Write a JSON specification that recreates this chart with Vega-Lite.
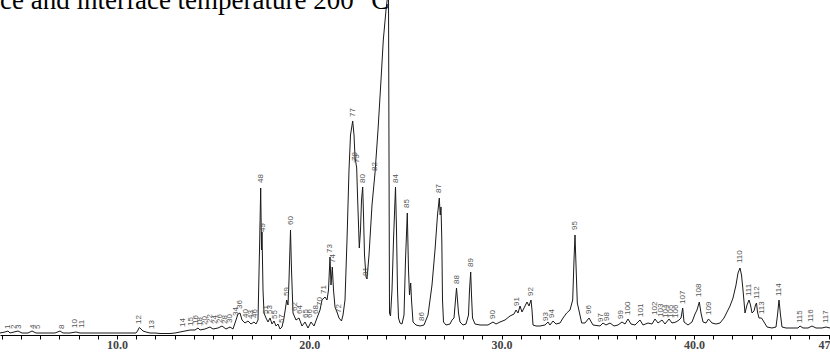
{
  "$schema": "https://vega.github.io/schema/vega-lite/v6.json",
  "width": 830,
  "height": 335,
  "padding": {"left": 0, "top": 0, "right": 0, "bottom": 19},
  "autosize": {"type": "none"},
  "background": "white",
  "config": {"view": {"stroke": null}, "axis": {"labelOverlap": false}},
  "title": {
    "text": "ce and interface temperature 200 °C",
    "anchor": "start",
    "frame": "group",
    "orient": "top",
    "offset": -36,
    "baseline": "alphabetic",
    "font": "Liberation Serif",
    "fontSize": 27,
    "fontWeight": "normal",
    "color": "#000000"
  },
  "datasets": {
    "tic": [
      {"rt":3.916,"i":2},{"rt":4.176,"i":3},{"rt":4.332,"i":4},{"rt":4.436,"i":2},{"rt":4.644,"i":3},{"rt":4.852,"i":4},{"rt":5.060,"i":2},{"rt":5.372,"i":2},{"rt":5.580,"i":4},{"rt":5.788,"i":2},{"rt":6.256,"i":2},{"rt":6.776,"i":2},{"rt":7.036,"i":4},{"rt":7.192,"i":2},{"rt":7.556,"i":2},{"rt":7.868,"i":3},{"rt":8.076,"i":2},{"rt":8.596,"i":2},{"rt":9.116,"i":2},{"rt":9.636,"i":2},{"rt":10.156,"i":2},{"rt":10.676,"i":2},{"rt":10.988,"i":2},{"rt":11.066,"i":4},{"rt":11.160,"i":7.5},{"rt":11.248,"i":6},{"rt":11.352,"i":4},{"rt":11.508,"i":3},{"rt":11.716,"i":2},{"rt":11.976,"i":2},{"rt":12.236,"i":1.5},{"rt":12.756,"i":1.5},{"rt":13.016,"i":2},{"rt":13.276,"i":3},{"rt":13.536,"i":4},{"rt":13.796,"i":5},{"rt":14.056,"i":5},{"rt":14.212,"i":7},{"rt":14.316,"i":5},{"rt":14.576,"i":6},{"rt":14.836,"i":8},{"rt":14.992,"i":6},{"rt":15.252,"i":7},{"rt":15.460,"i":9},{"rt":15.668,"i":6},{"rt":15.876,"i":8},{"rt":16.032,"i":6},{"rt":16.188,"i":15},{"rt":16.292,"i":21},{"rt":16.396,"i":22},{"rt":16.500,"i":15},{"rt":16.656,"i":12},{"rt":16.812,"i":14},{"rt":16.968,"i":11},{"rt":17.124,"i":13},{"rt":17.228,"i":11},{"rt":17.332,"i":15},{"rt":17.410,"i":85},{"rt":17.472,"i":147},{"rt":17.514,"i":85},{"rt":17.540,"i":103},{"rt":17.592,"i":45},{"rt":17.644,"i":22},{"rt":17.748,"i":17},{"rt":17.852,"i":13},{"rt":17.956,"i":17},{"rt":18.060,"i":11},{"rt":18.164,"i":14},{"rt":18.268,"i":9},{"rt":18.372,"i":11},{"rt":18.476,"i":6},{"rt":18.580,"i":8},{"rt":18.684,"i":17},{"rt":18.824,"i":35},{"rt":18.892,"i":30},{"rt":18.944,"i":55},{"rt":19.022,"i":105},{"rt":19.074,"i":65},{"rt":19.152,"i":22},{"rt":19.308,"i":15},{"rt":19.464,"i":17},{"rt":19.620,"i":9},{"rt":19.776,"i":13},{"rt":19.932,"i":7},{"rt":20.088,"i":13},{"rt":20.244,"i":9},{"rt":20.400,"i":17},{"rt":20.556,"i":25},{"rt":20.660,"i":35},{"rt":20.816,"i":38},{"rt":20.920,"i":35},{"rt":20.998,"i":45},{"rt":21.076,"i":78},{"rt":21.128,"i":50},{"rt":21.196,"i":68},{"rt":21.258,"i":45},{"rt":21.336,"i":28},{"rt":21.440,"i":23},{"rt":21.544,"i":17},{"rt":21.674,"i":14},{"rt":21.752,"i":20},{"rt":21.856,"i":35},{"rt":21.960,"i":95},{"rt":22.064,"i":165},{"rt":22.142,"i":200},{"rt":22.256,"i":214},{"rt":22.324,"i":200},{"rt":22.376,"i":178},{"rt":22.464,"i":167},{"rt":22.506,"i":140},{"rt":22.600,"i":87},{"rt":22.662,"i":105},{"rt":22.714,"i":135},{"rt":22.776,"i":148},{"rt":22.818,"i":120},{"rt":22.870,"i":80},{"rt":22.948,"i":58},{"rt":23.000,"i":56},{"rt":23.104,"i":80},{"rt":23.260,"i":130},{"rt":23.416,"i":162},{"rt":23.572,"i":205},{"rt":23.728,"i":255},{"rt":23.848,"i":295},{"rt":23.988,"i":325},{"rt":24.066,"i":338},{"rt":24.118,"i":345},{"rt":24.170,"i":22},{"rt":24.222,"i":19},{"rt":24.300,"i":45},{"rt":24.378,"i":95},{"rt":24.482,"i":148},{"rt":24.534,"i":105},{"rt":24.586,"i":45},{"rt":24.638,"i":17},{"rt":24.716,"i":12},{"rt":24.820,"i":11},{"rt":24.924,"i":20},{"rt":25.002,"i":75},{"rt":25.096,"i":122},{"rt":25.158,"i":65},{"rt":25.210,"i":40},{"rt":25.272,"i":52},{"rt":25.314,"i":35},{"rt":25.392,"i":13},{"rt":25.548,"i":10},{"rt":25.756,"i":9},{"rt":25.964,"i":10},{"rt":26.172,"i":20},{"rt":26.380,"i":50},{"rt":26.536,"i":85},{"rt":26.666,"i":120},{"rt":26.760,"i":137},{"rt":26.806,"i":120},{"rt":26.848,"i":128},{"rt":26.890,"i":95},{"rt":26.926,"i":35},{"rt":26.978,"i":13},{"rt":27.108,"i":10},{"rt":27.316,"i":11},{"rt":27.420,"i":15},{"rt":27.524,"i":17},{"rt":27.602,"i":35},{"rt":27.654,"i":47},{"rt":27.706,"i":35},{"rt":27.758,"i":22},{"rt":27.836,"i":13},{"rt":27.992,"i":10},{"rt":28.148,"i":11},{"rt":28.278,"i":20},{"rt":28.330,"i":45},{"rt":28.392,"i":63},{"rt":28.434,"i":40},{"rt":28.486,"i":17},{"rt":28.616,"i":11},{"rt":28.876,"i":10},{"rt":29.292,"i":10},{"rt":29.552,"i":13},{"rt":29.708,"i":11},{"rt":29.916,"i":13},{"rt":30.176,"i":15},{"rt":30.436,"i":19},{"rt":30.644,"i":21},{"rt":30.748,"i":25},{"rt":30.852,"i":22},{"rt":30.956,"i":29},{"rt":31.060,"i":23},{"rt":31.164,"i":27},{"rt":31.320,"i":33},{"rt":31.424,"i":29},{"rt":31.528,"i":35},{"rt":31.580,"i":25},{"rt":31.632,"i":10},{"rt":31.788,"i":9},{"rt":31.996,"i":9},{"rt":32.256,"i":10},{"rt":32.412,"i":13},{"rt":32.516,"i":10},{"rt":32.672,"i":14},{"rt":32.828,"i":11},{"rt":33.036,"i":12},{"rt":33.192,"i":17},{"rt":33.384,"i":22},{"rt":33.556,"i":25},{"rt":33.696,"i":35},{"rt":33.764,"i":75},{"rt":33.816,"i":100},{"rt":33.868,"i":70},{"rt":33.936,"i":32},{"rt":34.040,"i":23},{"rt":34.164,"i":12},{"rt":34.336,"i":12},{"rt":34.544,"i":17},{"rt":34.752,"i":10},{"rt":35.116,"i":9},{"rt":35.272,"i":12},{"rt":35.428,"i":10},{"rt":35.636,"i":12},{"rt":35.844,"i":9},{"rt":36.052,"i":10},{"rt":36.260,"i":13},{"rt":36.416,"i":11},{"rt":36.572,"i":16},{"rt":36.728,"i":11},{"rt":36.936,"i":10},{"rt":37.196,"i":15},{"rt":37.352,"i":10},{"rt":37.612,"i":12},{"rt":37.820,"i":11},{"rt":37.976,"i":16},{"rt":38.132,"i":12},{"rt":38.340,"i":15},{"rt":38.496,"i":11},{"rt":38.704,"i":16},{"rt":38.860,"i":12},{"rt":39.068,"i":13},{"rt":39.224,"i":15},{"rt":39.328,"i":17},{"rt":39.416,"i":27},{"rt":39.484,"i":13},{"rt":39.692,"i":10},{"rt":39.900,"i":13},{"rt":40.056,"i":21},{"rt":40.160,"i":25},{"rt":40.280,"i":33},{"rt":40.368,"i":22},{"rt":40.472,"i":13},{"rt":40.628,"i":12},{"rt":40.758,"i":16},{"rt":40.940,"i":12},{"rt":41.148,"i":11},{"rt":41.356,"i":12},{"rt":41.564,"i":17},{"rt":41.720,"i":23},{"rt":41.876,"i":29},{"rt":42.032,"i":37},{"rt":42.188,"i":50},{"rt":42.292,"i":62},{"rt":42.396,"i":67},{"rt":42.474,"i":60},{"rt":42.552,"i":45},{"rt":42.656,"i":22},{"rt":42.760,"i":30},{"rt":42.864,"i":35},{"rt":42.942,"i":30},{"rt":43.020,"i":22},{"rt":43.124,"i":24},{"rt":43.202,"i":30},{"rt":43.254,"i":32},{"rt":43.306,"i":23},{"rt":43.384,"i":17},{"rt":43.514,"i":17},{"rt":43.644,"i":13},{"rt":43.800,"i":8},{"rt":44.060,"i":7},{"rt":44.268,"i":8},{"rt":44.346,"i":20},{"rt":44.424,"i":35},{"rt":44.502,"i":20},{"rt":44.580,"i":8},{"rt":44.788,"i":7},{"rt":45.100,"i":7},{"rt":45.412,"i":7},{"rt":45.516,"i":9},{"rt":45.672,"i":7},{"rt":45.932,"i":7},{"rt":46.140,"i":9},{"rt":46.348,"i":7},{"rt":46.660,"i":7},{"rt":46.868,"i":8},{"rt":47.076,"i":7}
    ],
    "peaks": [
      {"peak":"1","rt":4.332,"h":4},{"peak":"2","rt":4.644,"h":4},{"peak":"3","rt":4.904,"h":4},{"peak":"4","rt":5.632,"h":4},{"peak":"5","rt":5.892,"h":4},{"peak":"8","rt":7.140,"h":4},{"peak":"10","rt":7.816,"h":5},{"peak":"11","rt":8.180,"h":5},{"peak":"12","rt":11.160,"h":9},{"peak":"13","rt":11.804,"h":4},
      {"peak":"14","rt":13.432,"h":6},{"peak":"15","rt":13.848,"h":7},{"peak":"16","rt":14.108,"h":9},{"peak":"18","rt":14.316,"h":7},{"peak":"20","rt":14.576,"h":8},{"peak":"22","rt":14.836,"h":10},{"peak":"24","rt":15.096,"h":9},{"peak":"26","rt":15.356,"h":10},{"peak":"28","rt":15.616,"h":9},{"peak":"30","rt":15.876,"h":10},{"peak":"34","rt":16.188,"h":17},{"peak":"36","rt":16.396,"h":24},{"peak":"40","rt":16.708,"h":15},{"peak":"43","rt":16.968,"h":14},{"peak":"46","rt":17.176,"h":15},
      {"peak":"48","rt":17.472,"h":150},{"peak":"49","rt":17.566,"h":101},{"peak":"51","rt":17.748,"h":19},{"peak":"53","rt":17.956,"h":19},{"peak":"55","rt":18.216,"h":14},{"peak":"57","rt":18.580,"h":10},{"peak":"59","rt":18.840,"h":37},{"peak":"60","rt":19.022,"h":108},{"peak":"62","rt":19.256,"h":22},{"peak":"64","rt":19.516,"h":19},{"peak":"65","rt":19.828,"h":15},{"peak":"66","rt":20.036,"h":15},{"peak":"68","rt":20.348,"h":19},{"peak":"70","rt":20.556,"h":27},{"peak":"71","rt":20.764,"h":39},
      {"peak":"72","rt":21.544,"h":20},{"peak":"73","rt":21.076,"h":80},{"peak":"74","rt":21.216,"h":70},{"peak":"77","rt":22.256,"h":216},{"peak":"78","rt":22.350,"h":172},{"peak":"79","rt":22.480,"h":170},{"peak":"80","rt":22.776,"h":150},{"peak":"81","rt":22.948,"h":57},{"peak":"82","rt":23.390,"h":162},{"peak":"84","rt":24.482,"h":150},{"peak":"85","rt":25.096,"h":125},{"peak":"86","rt":25.844,"h":12},{"peak":"87","rt":26.760,"h":140},{"peak":"88","rt":27.654,"h":49},{"peak":"89","rt":28.392,"h":66},{"peak":"90","rt":29.552,"h":14},{"peak":"91","rt":30.800,"h":27},{"peak":"92","rt":31.528,"h":37},{"peak":"93","rt":32.308,"h":12},{"peak":"94","rt":32.620,"h":15},{"peak":"95","rt":33.816,"h":103},{"peak":"96","rt":34.544,"h":19},{"peak":"97","rt":35.168,"h":11},{"peak":"98","rt":35.480,"h":12},{"peak":"99","rt":36.208,"h":14},{"peak":"100","rt":36.572,"h":18},{"peak":"101","rt":37.248,"h":16},{"peak":"102","rt":37.976,"h":18},{"peak":"103","rt":38.288,"h":16},{"peak":"104","rt":38.548,"h":15},{"peak":"105","rt":38.808,"h":15},{"peak":"106","rt":39.068,"h":15},{"peak":"107","rt":39.416,"h":29},{"peak":"108","rt":40.280,"h":36},{"peak":"109","rt":40.758,"h":18},{"peak":"110","rt":42.396,"h":70},{"peak":"111","rt":42.864,"h":37},{"peak":"112","rt":43.254,"h":34},{"peak":"113","rt":43.514,"h":19},{"peak":"114","rt":44.424,"h":37},{"peak":"115","rt":45.516,"h":10},{"peak":"116","rt":46.088,"h":11},{"peak":"117","rt":46.868,"h":10}
    ]
  },
  "encoding": {
    "x": {
      "field": "rt", "type": "quantitative",
      "scale": {"domain": [3.916, 47.076], "nice": false, "zero": false},
      "axis": {
        "title": null,
        "values": [4,5,6,7,8,9,10,11,12,13,14,15,16,17,18,19,20,21,22,23,24,25,26,27,28,29,30,31,32,33,34,35,36,37,38,39,40,41,42,43,44,45,46,47],
        "labelExpr": "(datum.value == 10 || datum.value == 20 || datum.value == 30 || datum.value == 40 || datum.value == 47) ? format(datum.value, '.1f') : ''",
        "grid": false,
        "domainColor": "#000000",
        "domainWidth": 1,
        "tickColor": "#000000",
        "tickSize": 4,
        "labelFont": "Liberation Serif",
        "labelFontSize": 12,
        "labelFontWeight": "bold",
        "labelColor": "#444444",
        "labelPadding": 0,
        "labelFlush": false,
        "labelOverlap": false
      }
    }
  },
  "layer": [
    {
      "data": {"name": "tic"},
      "mark": {"type": "line", "color": "#1a1a1a", "strokeWidth": 1, "clip": true, "interpolate": "linear"},
      "encoding": {
        "y": {
          "field": "i", "type": "quantitative",
          "scale": {"domain": [0, 335], "nice": false, "zero": true},
          "axis": null
        }
      }
    },
    {
      "data": {"name": "peaks"},
      "mark": {"type": "text", "angle": 270, "align": "left", "baseline": "middle", "dx": 2, "font": "Liberation Sans", "fontSize": 8, "color": "#555555"},
      "encoding": {
        "y": {"field": "h", "type": "quantitative", "axis": null},
        "text": {"field": "peak", "type": "nominal"}
      }
    }
  ]
}
